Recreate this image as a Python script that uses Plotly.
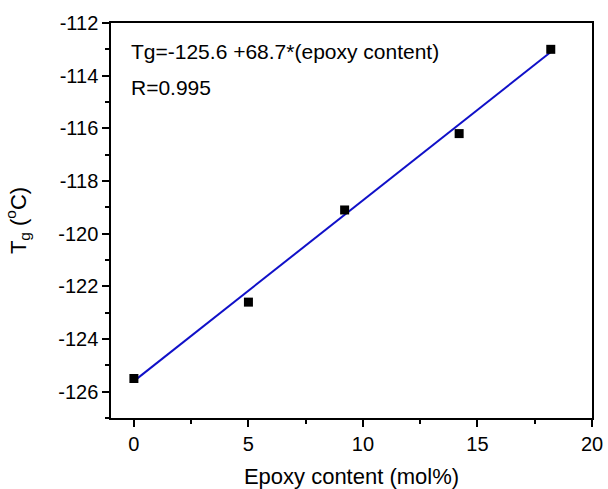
import plotly.graph_objects as go

epoxy = [0, 5, 9.2, 14.2, 18.2]
tg = [-125.5, -122.6, -119.1, -116.2, -113.0]
fit_x = [0, 18.2]
fit_y = [-125.6, -113.1]
x_ticks = [0, 5, 10, 15, 20]
y_ticks = [-126, -124, -122, -120, -118, -116, -114, -112]

FONT = "Liberation Sans, Arial, sans-serif"

fig = go.Figure()
fig.add_trace(go.Scatter(x=fit_x, y=fit_y, mode="lines",
                         line=dict(color="#1010c8", width=2), showlegend=False))
fig.add_trace(go.Scatter(x=epoxy, y=tg, mode="markers",
                         marker=dict(symbol="square", size=9, color="black"),
                         showlegend=False))

fig.add_annotation(x=-0.2, y=-113.1, xref="x", yref="y", xanchor="left", yanchor="middle",
                   text="Tg=-125.6 +68.7*(epoxy content)", showarrow=False,
                   font=dict(family=FONT, size=21, color="black"))
fig.add_annotation(x=-0.2, y=-114.45, xref="x", yref="y", xanchor="left", yanchor="middle",
                   text="R=0.995", showarrow=False,
                   font=dict(family=FONT, size=21, color="black"))

axis_common = dict(showgrid=False, zeroline=False, showline=True, linecolor="black",
                   linewidth=1.5, mirror=True, ticks="outside", ticklen=7, tickwidth=1.5,
                   tickcolor="black", tickfont=dict(family=FONT, size=20, color="black"),
                   automargin=False)

fig.update_xaxes(range=[-1, 20], tickvals=x_ticks, ticktext=[str(v) for v in x_ticks],
                 title=dict(text="Epoxy content (mol%)", font=dict(family=FONT, size=22, color="black"),
                            standoff=24),
                 minor=dict(ticks="outside", ticklen=4, tickwidth=1.5, tickcolor="black", dtick=2.5, tick0=0),
                 **axis_common)
fig.update_yaxes(range=[-127, -112], tickvals=y_ticks, ticktext=[str(v) for v in y_ticks],
                 title=dict(text="T<sub>g</sub> (<sup>o</sup>C)", font=dict(family=FONT, size=22, color="black"),
                            standoff=26),
                 minor=dict(ticks="outside", ticklen=4, tickwidth=1.5, tickcolor="black", dtick=1, tick0=-127),
                 **axis_common)

fig.update_layout(width=608, height=489, margin=dict(l=111, r=16, t=23, b=71),
                  plot_bgcolor="white", paper_bgcolor="white")

fig.write_html("out.html")
